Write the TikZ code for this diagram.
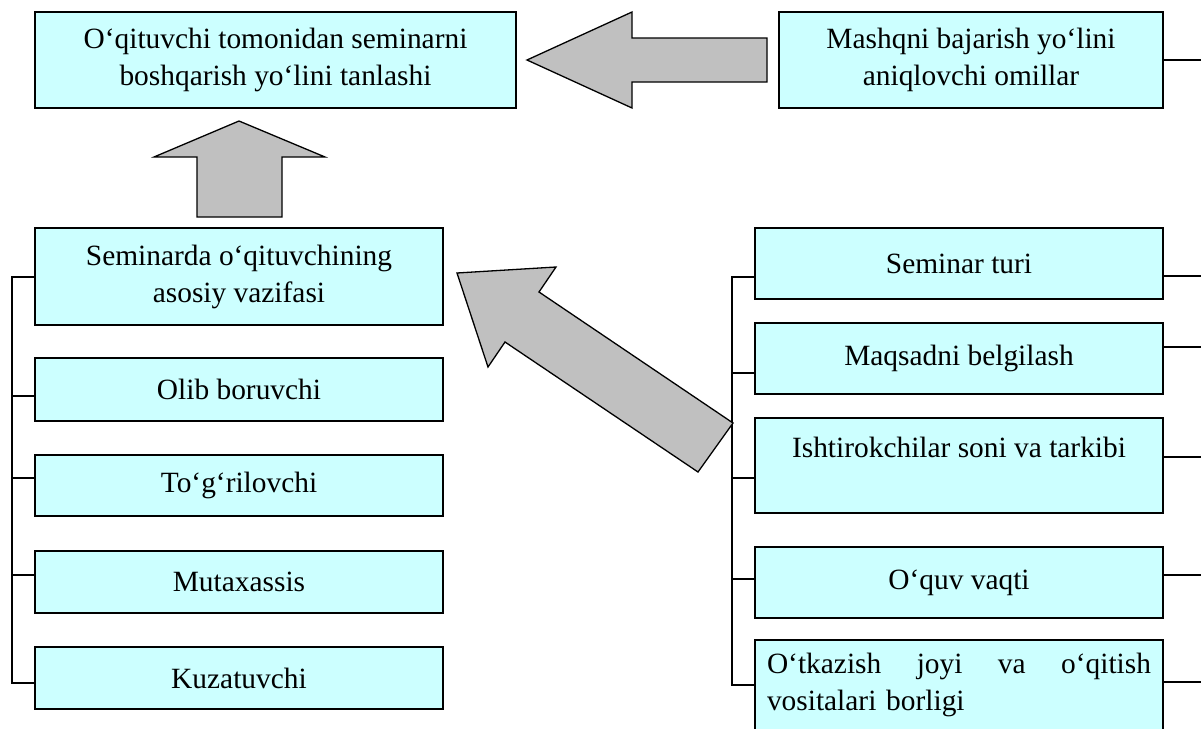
\documentclass[tikz,border=0pt]{standalone}
\usepackage{fontspec}
\setmainfont{Liberation Serif}
\definecolor{boxfill}{HTML}{CCFFFF}
\definecolor{arrowfill}{HTML}{C0C0C0}
\tikzset{
  box/.style={draw=black, fill=boxfill, line width=1.5pt, inner sep=0pt, align=center,
    font=\fontsize{29.4}{37}\selectfont},
  bigarrow/.style={draw=black, fill=arrowfill, line width=1.3pt, line join=miter},
  conn/.style={draw=black, line width=1.5pt}
}
\begin{document}
\begin{tikzpicture}[x=1pt,y=-1pt]
\useasboundingbox (0,0) rectangle (1201,728);
% top boxes
\node[box, minimum width=481pt, minimum height=96pt] (A) at (275.5,60) {O‘qituvchi tomonidan seminarni\\boshqarish yo‘lini tanlashi};
\node[box, minimum width=384pt, minimum height=96pt] (B) at (971,60) {Mashqni bajarish yo‘lini\\aniqlovchi omillar};
% left column
\node[box, minimum width=408pt, minimum height=97pt] (L1) at (239,276.5) {Seminarda o‘qituvchining\\asosiy vazifasi};
\node[box, minimum width=408pt, minimum height=63pt] (L2) at (239,389.5) {Olib boruvchi};
\node[box, minimum width=408pt, minimum height=61pt] (L3) at (239,485.5) {To‘g‘rilovchi};
\node[box, minimum width=408pt, minimum height=62pt] (L4) at (239,582) {Mutaxassis};
\node[box, minimum width=408pt, minimum height=62pt] (L5) at (239,678) {Kuzatuvchi};
% right column
\node[box, minimum width=408pt, minimum height=71pt] (R1) at (959,263.5) {Seminar turi};
\node[box, minimum width=408pt, minimum height=71pt] (R2) at (959,358.5) {Maqsadni belgilash};
\node[box, minimum width=408pt, minimum height=95pt] (R3) at (959,465.5) {Ishtirokchilar soni va tarkibi\\\mbox{}};
\node[box, minimum width=408pt, minimum height=90pt] (R4) at (959,582.5) [minimum height=71pt] {O‘quv vaqti};
\node[box, minimum width=408pt, minimum height=90pt, text width=384pt, inner xsep=12pt, align=left] (R5) at (959,685) {\hbox to 384pt{O‘tkazish\hfill joyi\hfill va\hfill o‘qitish}\\vositalari borligi};
% coordinates for connectors
\coordinate (lb) at (12,0);
\coordinate (rb) at (732,0);
\coordinate (re) at (1201,0);
% left bracket
\draw[conn] (L1.west |- 0,277) -| (lb |- 0,683) -- (L5.west |- 0,683);
\draw[conn] (L2.west |- 0,396) -- (lb |- 0,396);
\draw[conn] (L3.west |- 0,478) -- (lb |- 0,478);
\draw[conn] (L4.west |- 0,575) -- (lb |- 0,575);
% right bracket
\draw[conn] (R1.west |- 0,277) -| (rb |- 0,685) -- (R5.west |- 0,685);
\draw[conn] (R2.west |- 0,373) -- (rb |- 0,373);
\draw[conn] (R3.west |- 0,478) -- (rb |- 0,478);
\draw[conn] (R4.west |- 0,579) -- (rb |- 0,579);
% right stubs
\draw[conn] (B.east) -- (re |- B.east);
\draw[conn] (R1.east |- 0,276) -- (re |- 0,276);
\draw[conn] (R2.east |- 0,347) -- (re |- 0,347);
\draw[conn] (R3.east |- 0,457) -- (re |- 0,457);
\draw[conn] (R4.east |- 0,575) -- (re |- 0,575);
\draw[conn] (R5.east |- 0,682) -- (re |- 0,682);
% block arrows
\draw[bigarrow] (527,60) -- (632,12) -- (632,38) -- (767,38) -- (767,82) -- (632,82) -- (632,108) -- cycle;
\draw[bigarrow] (239,121) -- (325,157) -- (282,157) -- (282,217) -- (197,217) -- (197,157) -- (154,157) -- cycle;
\draw[bigarrow] (457,273) -- (556,267) -- (539,292) -- (733,423) -- (698,472) -- (505,342) -- (488,367) -- cycle;
\end{tikzpicture}
\end{document}
